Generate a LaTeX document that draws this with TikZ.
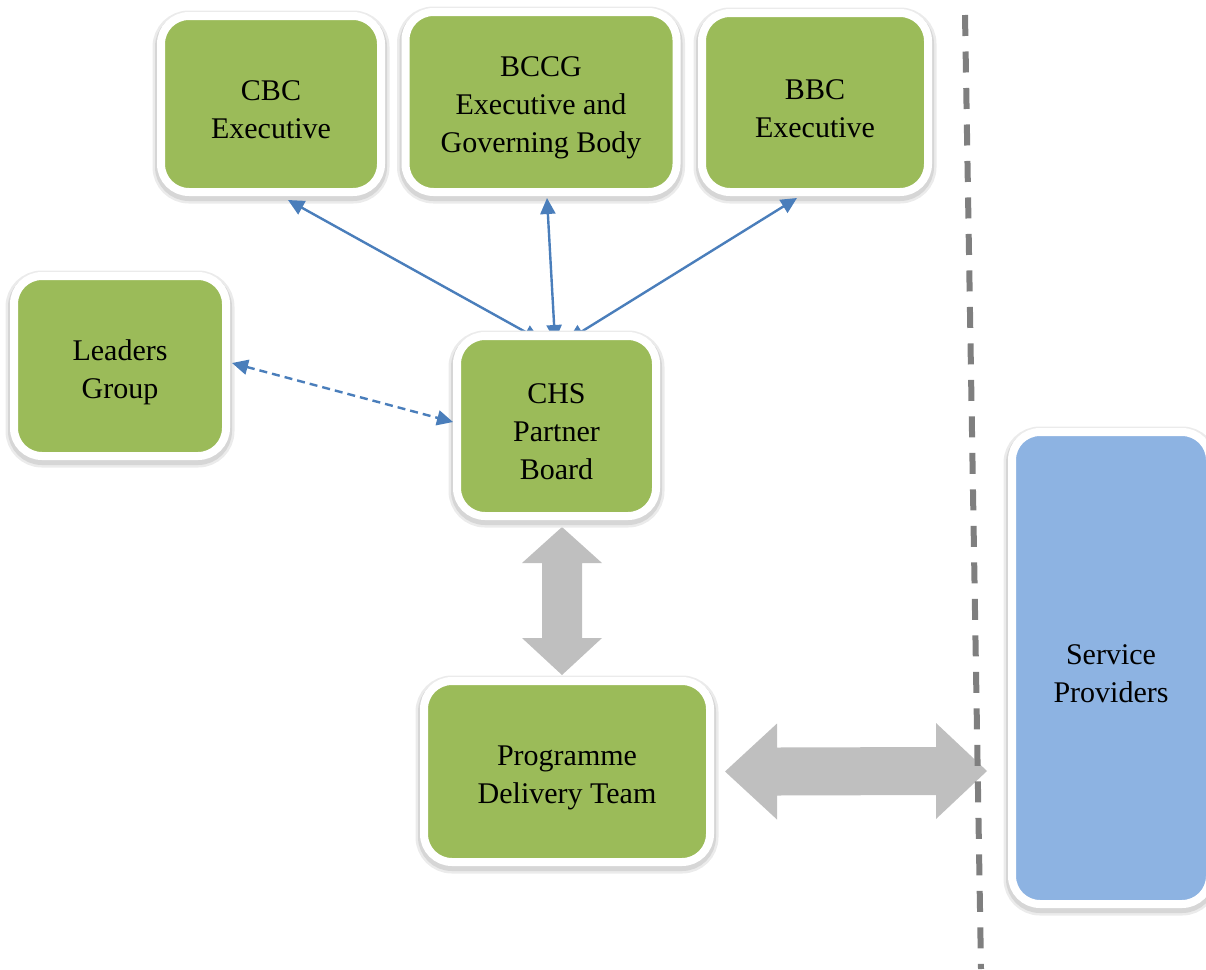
\documentclass[tikz,border=0pt]{standalone}
\usepackage{fontspec}
\setmainfont{Liberation Serif}
\usetikzlibrary{arrows.meta,calc}
\pgfdeclarelayer{front}
\pgfsetlayers{main,front}
\definecolor{boxgreen}{HTML}{9BBB59}
\definecolor{boxblue}{HTML}{8DB3E2}
\definecolor{linkblue}{HTML}{4A7EBB}
\definecolor{blockgray}{HTML}{BFBFBF}
\definecolor{sepgray}{HTML}{7F7F7F}
\tikzset{
  boxtext/.style={align=center, font=\fontsize{30}{38}\selectfont, text=black, inner sep=0pt, yshift=-6pt},
  box/.style={rectangle, rounded corners=28pt, fill=boxgreen, draw=white, line width=8pt,
    inner sep=0pt, outer sep=0pt,
    preaction={draw=black!8, line width=17pt, transform canvas={yshift=-3pt}},
    preaction={draw=black!16, line width=12pt, transform canvas={yshift=-3pt}}},
  bluebox/.style={box, fill=boxblue},
  link/.style={draw=linkblue, line width=2.4pt, {Triangle[length=16pt,width=15pt]}-{Triangle[length=16pt,width=15pt]}},
  dlink/.style={link, dash pattern=on 8pt off 5pt},
  blockarrow/.style={fill=blockgray},
  separator/.style={draw=sepgray, line width=6pt, dash pattern=on 21pt off 15.5pt}
}
\begin{document}
\begin{tikzpicture}[x=1pt,y=-1pt]
\useasboundingbox (0,0) rectangle (1206,969);

% boxes
\node[box, minimum width=220pt, minimum height=176pt, label={[boxtext]center:CBC\\Executive}] (cbc) at (271,104) {};
\node[box, minimum width=271pt, minimum height=180pt, label={[boxtext]center:BCCG\\Executive and\\Governing Body}] (bccg) at (541,102) {};
\node[box, minimum width=226pt, minimum height=179pt, label={[boxtext]center:BBC\\Executive}] (bbc) at (815,102.5) {};
\node[box, minimum width=212pt, minimum height=180pt, label={[boxtext]center:Leaders\\Group}] (lead) at (120,366) {};
\begin{pgfonlayer}{front}
\node[box, minimum width=199pt, minimum height=180pt, label={[boxtext]center:CHS\\Partner\\Board}] (chs) at (556.5,426) {};
\end{pgfonlayer}
\node[box, minimum width=286pt, minimum height=181pt, label={[boxtext]center:Programme\\Delivery Team}] (pdt) at (567,771.5) {};
\node[bluebox, minimum width=198pt, minimum height=472pt, label={[boxtext]center:Service\\Providers}] (sp) at (1111,668) {};

% connectors (CHS box lies in front of their lower ends)
\draw[link] ($(cbc.south)+(17,8)$) -- ($(chs.north)+(-16.5,4)$);
\draw[link] ($(bccg.south)+(6,6)$) -- ($(chs.north)+(-1.5,5)$);
\draw[link] ($(bbc.south)+(-18,6)$) -- ($(chs.north)+(11.5,4)$);
\begin{pgfonlayer}{front}
\draw[dlink] ($(lead.east)+(6,-3)$) -- ($(chs.west)+(-4,-4)$);
\end{pgfonlayer}

% block arrows
\coordinate (vt) at ($(chs.south)+(5.5,11)$);
\coordinate (vb) at ($(pdt.north)+(-5,-6)$);
\fill[blockarrow] (vt) -- ++(40,36) -- ++(-20,0) -- ($(vb)+(20,-37)$) -- ++(20,0) -- (vb)
  -- ++(-40,-37) -- ++(20,0) -- ($(vt)+(-20,36)$) -- ++(-20,0) -- cycle;
\coordinate (hl) at ($(pdt.east)+(15,0)$);
\coordinate (hr) at ($(sp.west)+(-25,103)$);
\fill[blockarrow] (hl) -- ++(52,-48) -- ++(0,24) -- ($(hr)+(-51,-24)$) -- ++(0,-24) -- (hr)
  -- ++(-51,48) -- ++(0,-24) -- ($(hl)+(52,24)$) -- ++(0,24) -- cycle;

% separator
\coordinate (septop) at (965,15);
\coordinate (sepbot) at (981,969);
\draw[separator] (septop) -- (sepbot);
\end{tikzpicture}
\end{document}
